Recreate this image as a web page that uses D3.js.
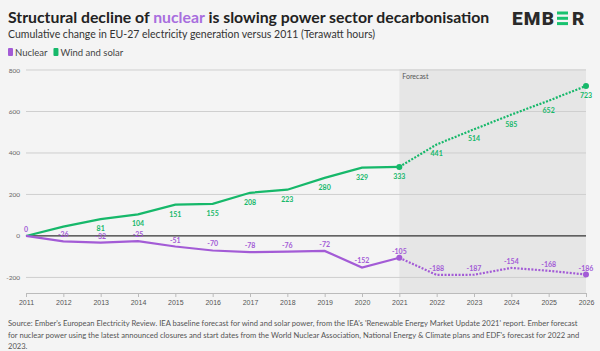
<!DOCTYPE html>
<html>
<head>
<meta charset="utf-8">
<style>
  body { margin: 0; background: #f4f4f4; }
  svg { display: block; font-family: "Source Sans Pro", Lato, "Noto Sans", sans-serif; }
  .grid line { stroke: #cfcfcf; stroke-width: 1; }
  .lbl { font-size: 7px; font-weight: bold; text-anchor: middle; }
</style>
</head>
<body>
<svg id="chart" width="600" height="351"></svg>
<script src="https://d3js.org/d3.v7.min.js"></script>
<script>
const years = d3.range(2011, 2027)
const windSolar = [0, 45, 81, 104, 151, 155, 208, 223, 280, 329, 333, 441, 514, 585, 652, 723]
const nuclear = [0, -26, -32, -25, -51, -70, -78, -76, -72, -152, -105, -188, -187, -154, -168, -186]
const yTicks = [-200, 0, 200, 400, 600, 800]
const forecastFrom = 2021

const green = "#16b86a"
const purple = "#a35bd6"

const svg = d3.select("#chart")
svg.append("rect").attr("width", 600).attr("height", 351).attr("fill", "#f4f4f4")

const x = d3.scaleLinear().domain([2011, 2026]).range([26, 586])
const y = d3.scaleLinear().domain([-275, 800]).range([293, 70])

// forecast band
svg.append("rect")
    .attr("x", x(forecastFrom)).attr("y", y(800) - 1)
    .attr("width", x(2026) - x(forecastFrom)).attr("height", y(-275) - y(800) + 1)
    .attr("fill", "#e6e6e6")
svg.append("text").text("Forecast")
    .attr("x", x(forecastFrom) + 3).attr("y", 79)
    .attr("font-size", 7).attr("fill", "#555")

// grid
let grid = svg.append("g").attr("class", "grid")
grid.selectAll("line").data(yTicks.filter(d => d != 0)).enter().append("line")
    .attr("x1", x(2011)).attr("x2", x(2026))
    .attr("y1", d => y(d)).attr("y2", d => y(d))
svg.selectAll(".ytick").data(yTicks).enter().append("text")
    .attr("x", 20).attr("y", d => y(d) + 2.5)
    .attr("text-anchor", "end").attr("font-size", 6.5).attr("fill", "#666")
    .text(d => d)

// x axis
let xAxis = svg.append("g").attr("transform", "translate(0,293)")
    .call(d3.axisBottom(x).tickValues(years).tickFormat(d3.format("d")).tickSize(4).tickPadding(3))
xAxis.select(".domain").attr("stroke", "#bbb")
xAxis.selectAll(".tick line").attr("stroke", "#bbb")
xAxis.selectAll("text").attr("font-size", 7).attr("fill", "#555").attr("font-family", "inherit")

// zero line
svg.append("line").attr("x1", x(2011)).attr("x2", x(2026))
    .attr("y1", y(0)).attr("y2", y(0)).attr("stroke", "#333").attr("stroke-width", 1.3)

function drawSeries(vals, color, labelDy, skipLabels) {
    let pts = years.map((yr, i) => ({yr: yr, v: vals[i]}))
    let line = d3.line().x(d => x(d.yr)).y(d => y(d.v))
    svg.append("path").attr("d", line(pts.filter(d => d.yr <= forecastFrom)))
        .attr("fill", "none").attr("stroke", color).attr("stroke-width", 2.2)
    svg.append("path").attr("d", line(pts.filter(d => d.yr >= forecastFrom)))
        .attr("fill", "none").attr("stroke", color).attr("stroke-width", 2.2)
        .attr("stroke-dasharray", "2,1.5")
    svg.selectAll(null).data(pts.filter(d => d.yr == forecastFrom || d.yr == 2026)).enter()
        .append("circle").attr("cx", d => x(d.yr)).attr("cy", d => y(d.v)).attr("r", 3).attr("fill", color)
    svg.selectAll(null).data(pts.filter((d, i) => !skipLabels.includes(i))).enter()
        .append("text").attr("class", "lbl").attr("fill", color)
        .attr("x", d => x(d.yr)).attr("y", d => y(d.v) + labelDy)
        .text(d => d.v)
}
drawSeries(windSolar, green, 12, [0, 1])
drawSeries(nuclear, purple, -4, [])

// title, subtitle
let title = svg.append("text").attr("x", 8).attr("y", 23).attr("font-size", 15.8).attr("font-weight", "bold").attr("fill", "#222")
title.append("tspan").text("Structural decline of ")
title.append("tspan").text("nuclear").attr("fill", "#a86ede")
title.append("tspan").text(" is slowing power sector decarbonisation")
svg.append("text").attr("x", 8).attr("y", 38).attr("font-size", 10.5).attr("fill", "#333")
    .text("Cumulative change in EU-27 electricity generation versus 2011 (Terawatt hours)")

// legend
let legend = [{name: "Nuclear", color: purple}, {name: "Wind and solar", color: green}]
let lx = 8
legend.forEach(d => {
    svg.append("rect").attr("x", lx).attr("y", 48).attr("width", 5).attr("height", 8).attr("rx", 1).attr("fill", d.color)
    let t = svg.append("text").attr("x", lx + 7).attr("y", 56).attr("font-size", 9.5).attr("fill", "#444").text(d.name)
    lx += 7 + t.node().getComputedTextLength() + 6
})

// logo
let logo = svg.append("g").attr("font-size", 19).attr("font-weight", 900).attr("fill", "#2a2a2a")
    .attr("font-family", "Roboto, 'DejaVu Sans', sans-serif")
logo.append("text").attr("x", 512).attr("y", 25).attr("textLength", 42).attr("lengthAdjust", "spacing").text("EMB")
logo.append("text").attr("x", 572).attr("y", 25).text("R")
;[0, 1, 2].forEach(i => logo.append("rect").attr("x", 557).attr("y", 11.5 + i * 5.3).attr("width", 11).attr("height", 3).attr("fill", "#18c26f"))

// source
let src = ["Source: Ember's European Electricity Review. IEA baseline forecast for wind and solar power, from the IEA's 'Renewable Energy Market Update 2021' report. Ember forecast",
    "for nuclear power using the latest announced closures and start dates from the World Nuclear Association, National Energy & Climate plans and EDF's forecast for 2022 and",
    "2023."]
svg.selectAll(".src").data(src).enter().append("text")
    .attr("x", 8).attr("y", (d, i) => 326 + i * 11.5)
    .attr("font-size", 7.6).attr("fill", "#555").text(d => d)
</script>
</body>
</html>
